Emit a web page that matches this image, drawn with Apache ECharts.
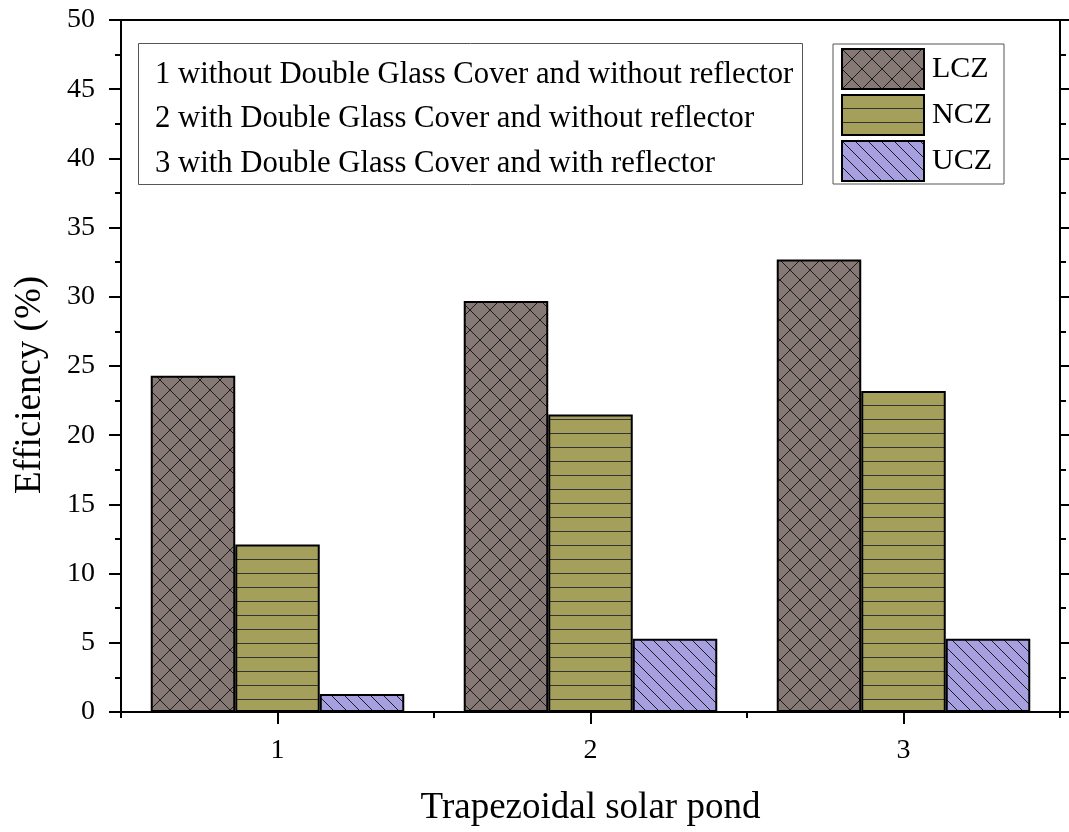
<!DOCTYPE html>
<html>
<head>
<meta charset="utf-8">
<script src="https://cdn.jsdelivr.net/npm/echarts@6/dist/echarts.min.js"></script>
<style>
html,body{margin:0;padding:0;background:#fff;}
#chart{width:1069px;height:832px;}
</style>
</head>
<body>
<div id="chart"></div>
<script>
// ---- data ----
const categories = ['1', '2', '3'];
const seriesNames = ['LCZ', 'NCZ', 'UCZ'];
const lczValues = [24.3, 29.7, 32.7];
const nczValues = [12.1, 21.5, 23.2];
const uczValues = [1.3, 5.3, 5.3];
const noteLines = [
  '1 without Double Glass Cover and without reflector',
  '2 with Double Glass Cover and without reflector',
  '3 with Double Glass Cover and with reflector'
];
const yMin = 0, yMax = 50, yInterval = 5;

const FONT = '"Liberation Serif", "Times New Roman", serif';

function makePattern(kind) {
  const c = document.createElement('canvas');
  let w, h;
  if (kind === 'cross') { w = 20; h = 20; }
  else if (kind === 'hline') { w = 14; h = 14; }
  else { w = 13; h = 13; }
  c.width = w; c.height = h;
  const ctx = c.getContext('2d');
  ctx.lineWidth = 1;
  if (kind === 'cross') {
    ctx.fillStyle = '#867975'; ctx.fillRect(0, 0, w, h);
    ctx.strokeStyle = '#1a1a1a';
    ctx.beginPath();
    ctx.moveTo(-2, -2); ctx.lineTo(w + 2, h + 2);
    ctx.moveTo(w + 2, -2); ctx.lineTo(-2, h + 2);
    ctx.stroke();
  } else if (kind === 'hline') {
    ctx.fillStyle = '#a4a05c'; ctx.fillRect(0, 0, w, h);
    ctx.strokeStyle = '#333';
    ctx.beginPath();
    ctx.moveTo(0, h - 0.5); ctx.lineTo(w, h - 0.5);
    ctx.stroke();
  } else {
    ctx.fillStyle = '#a69fe0'; ctx.fillRect(0, 0, w, h);
    ctx.strokeStyle = '#1a1a1a';
    ctx.beginPath();
    ctx.moveTo(-2, -2); ctx.lineTo(w + 2, h + 2);
    ctx.stroke();
  }
  return { image: c, repeat: 'repeat' };
}

const patterns = [makePattern('cross'), makePattern('hline'), makePattern('diag')];
const valueSets = [lczValues, nczValues, uczValues];

const chart = echarts.init(document.getElementById('chart'), null, { renderer: 'canvas' });

const series = seriesNames.map((name, i) => ({
  name: name,
  type: 'bar',
  xAxisIndex: 0,
  yAxisIndex: 0,
  data: valueSets[i],
  barGap: '0%',
  barCategoryGap: '19%',
  itemStyle: {
    color: patterns[i],
    borderColor: '#000',
    borderWidth: 2
  },
  emphasis: { disabled: true }
}));

const noteGraphics = [{
  type: 'rect',
  left: 138, top: 43,
  shape: { width: 664, height: 141 },
  style: { fill: '#fff', stroke: '#555', lineWidth: 1 },
  z: 10
}];
noteLines.forEach((t, i) => {
  noteGraphics.push({
    type: 'text',
    left: 155,
    top: 59 + i * 44.5,
    style: { text: t, font: '30.7px ' + FONT, fill: '#000' },
    z: 11
  });
});

const option = {
  animation: false,
  backgroundColor: '#fff',
  grid: {
    left: 121, right: 9, top: 20, bottom: 118,
    show: true, borderColor: '#000', borderWidth: 2, containLabel: false
  },
  legend: {
    data: seriesNames,
    orient: 'vertical',
    left: 833, top: 44,
    icon: 'rect',
    itemWidth: 82, itemHeight: 40, itemGap: 4,
    padding: [4, 12, 2, 8],
    borderColor: '#555', borderWidth: 1,
    backgroundColor: '#fff',
    textStyle: { fontFamily: FONT, fontSize: 30, lineHeight: 36, color: '#000', padding: [0, 0, 0, 3] },
    selectedMode: false,
    z: 10
  },
  xAxis: [
    {
      type: 'category',
      data: categories,
      position: 'bottom',
      name: 'Trapezoidal solar pond',
      nameLocation: 'middle',
      nameGap: 78,
      nameTextStyle: { fontFamily: FONT, fontSize: 37, color: '#000' },
      axisLine: { show: true, lineStyle: { color: '#000', width: 2 } },
      axisTick: { show: true, alignWithLabel: true, inside: false, length: 12, lineStyle: { color: '#000', width: 2 } },
      axisLabel: { fontFamily: FONT, fontSize: 28, color: '#000', margin: 25 },
      splitLine: { show: false }
    },
    {
      type: 'category',
      data: categories,
      position: 'bottom',
      axisLine: { show: false },
      axisTick: { show: true, alignWithLabel: false, inside: false, length: 6, lineStyle: { color: '#000', width: 2 } },
      axisLabel: { show: false },
      splitLine: { show: false }
    }
  ],
  yAxis: [
    {
      type: 'value',
      min: yMin, max: yMax, interval: yInterval,
      position: 'left',
      name: 'Efficiency (%)',
      nameLocation: 'middle',
      nameGap: 72,
      nameTextStyle: { fontFamily: FONT, fontSize: 37, color: '#000', padding: [0, 38, 0, 0] },
      axisLine: { show: true, lineStyle: { color: '#000', width: 2 } },
      axisTick: { show: true, inside: false, length: 12, lineStyle: { color: '#000', width: 2 } },
      minorTick: { show: true, splitNumber: 2, length: 6, lineStyle: { color: '#000', width: 2 } },
      axisLabel: { fontFamily: FONT, fontSize: 28, color: '#000', margin: 26 },
      splitLine: { show: false }
    },
    {
      type: 'value',
      min: yMin, max: yMax, interval: yInterval,
      position: 'right',
      axisLine: { show: true, lineStyle: { color: '#000', width: 2 } },
      axisTick: { show: true, inside: false, length: 10, lineStyle: { color: '#000', width: 2 } },
      minorTick: { show: true, splitNumber: 2, length: 6, lineStyle: { color: '#000', width: 2 } },
      axisLabel: { show: false },
      splitLine: { show: false }
    }
  ],
  series: series,
  graphic: noteGraphics
};

chart.setOption(option);
</script>
</body>
</html>
